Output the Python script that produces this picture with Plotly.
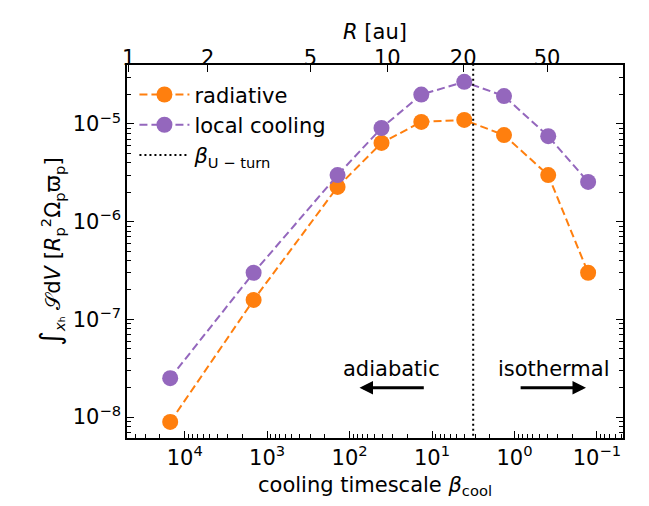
import plotly.graph_objects as go

# ---- data ----
beta_cool = [1.5e4, 1.46e3, 1.4e2, 41, 13.5, 4.07, 1.34, 0.39, 0.128]
radiative = [8.9e-9, 1.58e-7, 2.27e-6, 6.4e-6, 1.05e-5, 1.1e-5, 7.7e-6, 3.0e-6, 3.0e-7]
local_cooling = [2.5e-8, 3.0e-7, 3.0e-6, 9.1e-6, 2.0e-5, 2.7e-5, 1.93e-5, 7.5e-6, 2.55e-6]
beta_uturn = 3.17

# major tick exponents
x_tick_exp = [4, 3, 2, 1, 0, -1]
y_tick_exp = [-8, -7, -6, -5]

# top axis: R [au] tick labels and the beta_cool they correspond to (log10)
R_ticks = ["1", "2", "5", "10", "20", "50"]
R_tick_logbeta = [4.68, 3.72, 2.475, 1.542, 0.622, -0.395]

ORANGE = "#ff7f0e"
PURPLE = "#9467bd"
FONT = "DejaVu Sans"
FS = 21

xrange_log = [4.70, -1.316]
yrange_log = [-8.215, -4.396]


def pow_label(e):
    s = str(e).replace("-", "−")
    return f"10<sup>{s}</sup>"


def minor_vals(lo, hi):
    vals = []
    for k in range(int(lo) - 1, int(hi) + 2):
        for m in range(2, 10):
            vals.append(m * 10.0 ** k)
    return vals


fig = go.Figure()
fig.add_trace(go.Scatter(
    x=beta_cool, y=radiative, mode="lines+markers", name="radiative",
    line=dict(color=ORANGE, width=2, dash="8px,4px"),
    marker=dict(color=ORANGE, size=16),
))
fig.add_trace(go.Scatter(
    x=beta_cool, y=local_cooling, mode="lines+markers", name="local cooling",
    line=dict(color=PURPLE, width=2, dash="8px,4px"),
    marker=dict(color=PURPLE, size=16),
))
fig.add_trace(go.Scatter(
    x=[beta_uturn, beta_uturn], y=[10 ** (yrange_log[0] - 1), 10 ** (yrange_log[1] + 1)],
    mode="lines", name="<i>β</i><sub>U − turn</sub>",
    line=dict(color="black", width=2, dash="2px,3px"),
))
# invisible helper traces so the extra axes are drawn
fig.add_trace(go.Scatter(
    x=[10 ** v for v in R_tick_logbeta], y=[1e-6] * len(R_tick_logbeta),
    xaxis="x2", yaxis="y", mode="markers", marker=dict(opacity=0), showlegend=False,
    hoverinfo="skip",
))
fig.add_trace(go.Scatter(
    x=[1.0], y=[1e-6], xaxis="x3", yaxis="y", mode="markers",
    marker=dict(opacity=0), showlegend=False, hoverinfo="skip",
))
fig.add_trace(go.Scatter(
    x=[1.0], y=[1e-6], xaxis="x", yaxis="y2", mode="markers",
    marker=dict(opacity=0), showlegend=False, hoverinfo="skip",
))

# annotations: adiabatic / isothermal with arrows
fig.add_annotation(x=1.494, y=-7.51, text="adiabatic", showarrow=False,
                   font=dict(size=FS, color="black", family=FONT))
fig.add_annotation(x=-0.473, y=-7.51, text="isothermal", showarrow=False,
                   font=dict(size=FS, color="black", family=FONT))
fig.add_annotation(x=1.88, y=-7.70, ax=1.082, ay=-7.70, axref="x", ayref="y",
                   text="", showarrow=True, arrowhead=2, arrowsize=0.9,
                   arrowwidth=3, arrowcolor="black")
fig.add_annotation(x=-0.867, y=-7.70, ax=-0.056, ay=-7.70, axref="x", ayref="y",
                   text="", showarrow=True, arrowhead=2, arrowsize=0.9,
                   arrowwidth=3, arrowcolor="black")

axis_font = dict(family=FONT, size=FS, color="black")
tick_common = dict(ticks="inside", tickwidth=1.3, tickcolor="black",
                   showgrid=False, zeroline=False, layer="above traces")

fig.update_layout(
    width=649, height=506,
    margin=dict(l=127, r=26, t=65, b=68),
    plot_bgcolor="white", paper_bgcolor="white",
    font=dict(family=FONT, size=FS, color="black"),
    showlegend=True,
    legend=dict(x=0.015, y=0.975, xanchor="left", yanchor="top",
                bgcolor="rgba(255,255,255,0)", font=dict(size=FS, family=FONT),
                tracegroupgap=0, itemwidth=50),
    xaxis=dict(
        type="log", range=xrange_log, showline=True, linecolor="black", linewidth=1.5,
        mirror=True, ticklen=7, tickmode="array",
        tickvals=[10.0 ** e for e in x_tick_exp], ticktext=[pow_label(e) for e in x_tick_exp],
        tickfont=axis_font,
        title=dict(text="cooling timescale <i>β</i><sub>cool</sub>", font=axis_font, standoff=8),
        **tick_common,
    ),
    xaxis2=dict(
        type="log", range=xrange_log, overlaying="x", side="top", showline=False,
        anchor="y", ticklen=7, tickmode="array",
        tickvals=[10 ** v for v in R_tick_logbeta], ticktext=R_ticks,
        tickfont=axis_font, ticklabelstandoff=-5,
        title=dict(text="<i>R</i> [au]", font=axis_font, standoff=0),
        **tick_common,
    ),
    xaxis3=dict(
        type="log", range=xrange_log, overlaying="x", side="bottom", showline=False,
        anchor="y", ticklen=4, tickmode="array", tickvals=minor_vals(-2, 5),
        showticklabels=False,
        **tick_common,
    ),
    yaxis=dict(
        type="log", range=yrange_log, showline=True, linecolor="black", linewidth=1.5,
        mirror="ticks", ticklen=7, tickmode="array",
        tickvals=[10.0 ** e for e in y_tick_exp], ticktext=[pow_label(e) for e in y_tick_exp],
        tickfont=axis_font,
        title=dict(text="<span style='font-size:28px'>∫</span><sub><i>x</i>ₕ</sub> 𝒮d<i>V</i> [<i>R</i><sub>p</sub><sup>2</sup>Ω<sub>p</sub>ϖ<sub>p</sub>]",
                   font=axis_font, standoff=6),
        **tick_common,
    ),
    yaxis2=dict(
        type="log", range=yrange_log, overlaying="y", side="left", anchor="x",
        showline=True, linecolor="black", linewidth=1.5, mirror="ticks",
        ticklen=4, tickmode="array", tickvals=minor_vals(-9, -4),
        showticklabels=False,
        **tick_common,
    ),
)

fig.write_html("out.html")
